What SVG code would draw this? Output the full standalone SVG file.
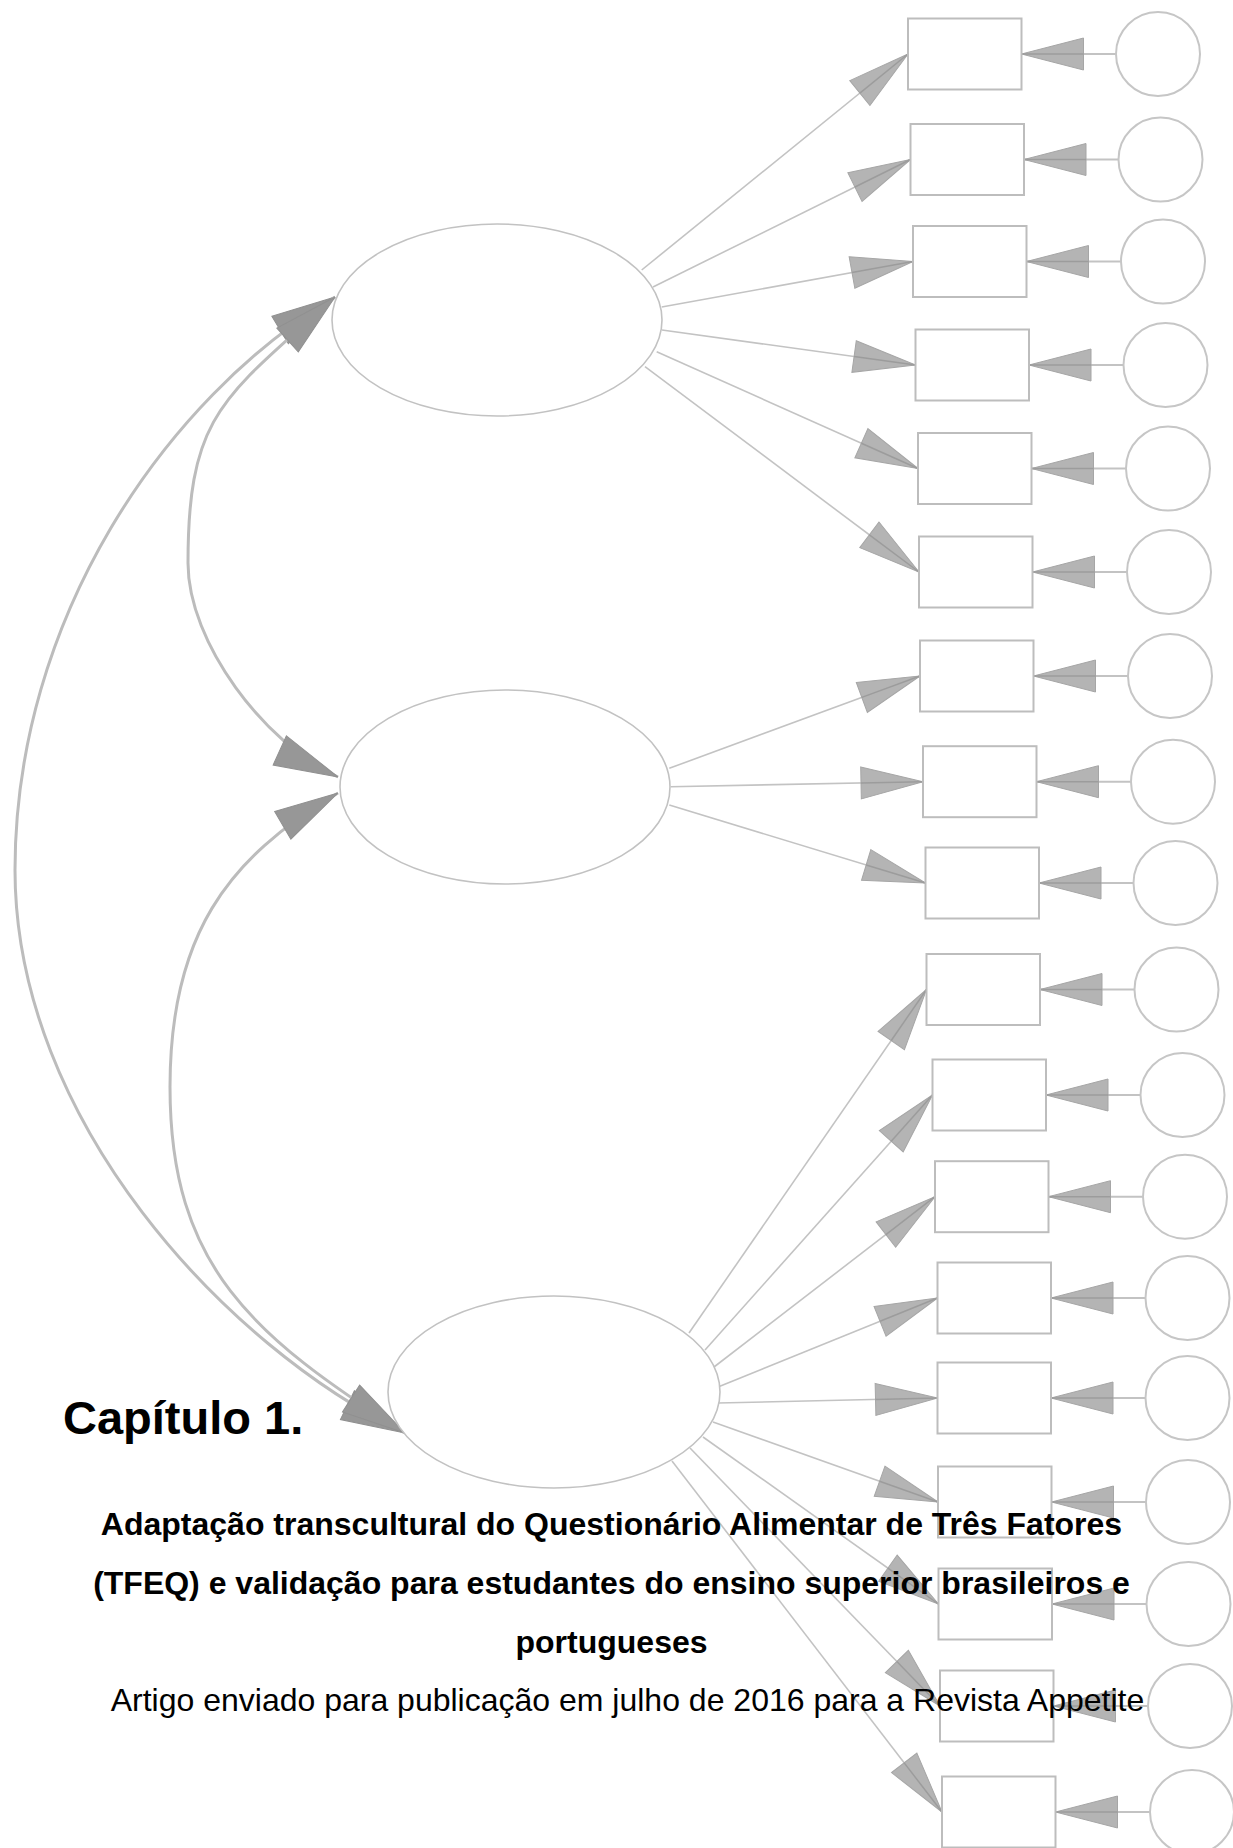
<svg xmlns="http://www.w3.org/2000/svg" width="1233" height="1848" viewBox="0 0 1233 1848">
  <style>
    .lat { fill: #ffffff; stroke: #c2c2c2; stroke-width: 1.6; }
    .obs { fill: #ffffff; stroke: #bdbdbd; stroke-width: 2; }
    .err { fill: #ffffff; stroke: #c6c6c6; stroke-width: 2; }
    .ld  { fill: none; stroke: #c3c3c3; stroke-width: 1.6; marker-end: url(#ah); }
    .ep  { fill: none; stroke: #c3c3c3; stroke-width: 2; marker-end: url(#ah); }
    .cov { fill: none; stroke: #bcbcbc; stroke-width: 3; marker-start: url(#ch); marker-end: url(#ch); }
    .hd  { font-family: "Liberation Sans", Arial, sans-serif; font-weight: bold; fill: #000000; }
    .tx  { font-family: "Liberation Sans", Arial, sans-serif; fill: #000000; }
  </style>
  <defs>
    <!-- single-headed path arrow (loadings and error terms) -->
    <marker id="ah" viewBox="0 0 62 32" refX="62" refY="16" markerWidth="62" markerHeight="32" markerUnits="userSpaceOnUse" orient="auto" overflow="visible">
      <path d="M0,0 L62,16 L0,32 Z" fill="#b4b4b4" stroke="#a6a6a6" stroke-width="1"/>
      <path d="M0,16 H62" stroke="#9c9c9c" stroke-width="1.5"/>
    </marker>
    <!-- covariance arrowheads, drawn at both ends of each curve -->
    <marker id="ch" viewBox="0 0 64 32" refX="64" refY="16" markerWidth="64" markerHeight="32" markerUnits="userSpaceOnUse" orient="auto-start-reverse" overflow="visible">
      <path d="M0,0 L64,16 L0,32 Z" fill="#979797" stroke="#909090" stroke-width="1"/>
    </marker>
  </defs>

  <!-- connectors -->
  <g id="connectors">
    <!-- covariances between the latent factors -->
    <path class="cov" d="M335,297 C163.6,399.8 15,620 15,870 C15,1120 225,1346 405,1433"/>
    <path class="cov" d="M335,297 C224,397.5 188,413 188,563 C188,643 265.2,743.8 338,777"/>
    <path class="cov" d="M338,793 C225.8,858.7 170,937 170,1087 C170,1267 253.3,1336.2 405,1433"/>

    <!-- factor loadings -->
    <line class="ld" x1="641.7" y1="270" x2="908" y2="54"/>
    <line class="ld" x1="653" y1="287" x2="910.5" y2="159.5"/>
    <line class="ld" x1="661.7" y1="307" x2="913" y2="261.5"/>
    <line class="ld" x1="662" y1="330" x2="915.5" y2="365"/>
    <line class="ld" x1="656.7" y1="351.7" x2="918" y2="468.5"/>
    <line class="ld" x1="645" y1="366.7" x2="919" y2="572"/>

    <line class="ld" x1="669.3" y1="768.3" x2="920" y2="676"/>
    <line class="ld" x1="670.7" y1="786.7" x2="923" y2="781.7"/>
    <line class="ld" x1="669.3" y1="805" x2="925.5" y2="883"/>

    <line class="ld" x1="689" y1="1333" x2="926.5" y2="989.5"/>
    <line class="ld" x1="705" y1="1350" x2="932.5" y2="1095"/>
    <line class="ld" x1="714" y1="1367" x2="935" y2="1196.7"/>
    <line class="ld" x1="718" y1="1387" x2="937.5" y2="1298"/>
    <line class="ld" x1="718" y1="1403" x2="937.5" y2="1398"/>
    <line class="ld" x1="713" y1="1422" x2="938" y2="1502"/>
    <line class="ld" x1="703" y1="1437" x2="938.5" y2="1604"/>
    <line class="ld" x1="690" y1="1448" x2="940" y2="1706"/>
    <line class="ld" x1="672" y1="1461" x2="942" y2="1812"/>

    <!-- error terms -->
    <line class="ep" x1="1116" y1="54" x2="1021.5" y2="54"/>
    <line class="ep" x1="1118.5" y1="159.5" x2="1024" y2="159.5"/>
    <line class="ep" x1="1121" y1="261.5" x2="1026.5" y2="261.5"/>
    <line class="ep" x1="1123.5" y1="365" x2="1029" y2="365"/>
    <line class="ep" x1="1126" y1="468.5" x2="1031.5" y2="468.5"/>
    <line class="ep" x1="1127" y1="572" x2="1032.5" y2="572"/>
    <line class="ep" x1="1128" y1="676" x2="1033.5" y2="676"/>
    <line class="ep" x1="1131" y1="781.7" x2="1036.5" y2="781.7"/>
    <line class="ep" x1="1133.5" y1="883" x2="1039" y2="883"/>
    <line class="ep" x1="1134.5" y1="989.5" x2="1040" y2="989.5"/>
    <line class="ep" x1="1140.5" y1="1095" x2="1046" y2="1095"/>
    <line class="ep" x1="1143" y1="1196.7" x2="1048.5" y2="1196.7"/>
    <line class="ep" x1="1145.5" y1="1298" x2="1051" y2="1298"/>
    <line class="ep" x1="1145.5" y1="1398" x2="1051" y2="1398"/>
    <line class="ep" x1="1146" y1="1502" x2="1051.5" y2="1502"/>
    <line class="ep" x1="1146.5" y1="1604" x2="1052" y2="1604"/>
    <line class="ep" x1="1148" y1="1706" x2="1053.5" y2="1706"/>
    <line class="ep" x1="1150" y1="1812" x2="1055.5" y2="1812"/>
  </g>

  <!-- latent factors -->
  <g id="f1"><ellipse class="lat" cx="497" cy="320" rx="165" ry="96"/></g>
  <g id="f2"><ellipse class="lat" cx="505" cy="787" rx="165" ry="97"/></g>
  <g id="f3"><ellipse class="lat" cx="554" cy="1392" rx="166" ry="96"/></g>

  <!-- observed items -->
  <g id="x1"><rect class="obs" x="908" y="18.5" width="113.5" height="71"/></g>
  <g id="x2"><rect class="obs" x="910.5" y="124" width="113.5" height="71"/></g>
  <g id="x3"><rect class="obs" x="913" y="226" width="113.5" height="71"/></g>
  <g id="x4"><rect class="obs" x="915.5" y="329.5" width="113.5" height="71"/></g>
  <g id="x5"><rect class="obs" x="918" y="433" width="113.5" height="71"/></g>
  <g id="x6"><rect class="obs" x="919" y="536.5" width="113.5" height="71"/></g>
  <g id="x7"><rect class="obs" x="920" y="640.5" width="113.5" height="71"/></g>
  <g id="x8"><rect class="obs" x="923" y="746.2" width="113.5" height="71"/></g>
  <g id="x9"><rect class="obs" x="925.5" y="847.5" width="113.5" height="71"/></g>
  <g id="x10"><rect class="obs" x="926.5" y="954" width="113.5" height="71"/></g>
  <g id="x11"><rect class="obs" x="932.5" y="1059.5" width="113.5" height="71"/></g>
  <g id="x12"><rect class="obs" x="935" y="1161.2" width="113.5" height="71"/></g>
  <g id="x13"><rect class="obs" x="937.5" y="1262.5" width="113.5" height="71"/></g>
  <g id="x14"><rect class="obs" x="937.5" y="1362.5" width="113.5" height="71"/></g>
  <g id="x15"><rect class="obs" x="938" y="1466.5" width="113.5" height="71"/></g>
  <g id="x16"><rect class="obs" x="938.5" y="1568.5" width="113.5" height="71"/></g>
  <g id="x17"><rect class="obs" x="940" y="1670.5" width="113.5" height="71"/></g>
  <g id="x18"><rect class="obs" x="942" y="1776.5" width="113.5" height="71"/></g>

  <!-- error terms -->
  <g id="e1"><circle class="err" cx="1158" cy="54" r="42"/></g>
  <g id="e2"><circle class="err" cx="1160.5" cy="159.5" r="42"/></g>
  <g id="e3"><circle class="err" cx="1163" cy="261.5" r="42"/></g>
  <g id="e4"><circle class="err" cx="1165.5" cy="365" r="42"/></g>
  <g id="e5"><circle class="err" cx="1168" cy="468.5" r="42"/></g>
  <g id="e6"><circle class="err" cx="1169" cy="572" r="42"/></g>
  <g id="e7"><circle class="err" cx="1170" cy="676" r="42"/></g>
  <g id="e8"><circle class="err" cx="1173" cy="781.7" r="42"/></g>
  <g id="e9"><circle class="err" cx="1175.5" cy="883" r="42"/></g>
  <g id="e10"><circle class="err" cx="1176.5" cy="989.5" r="42"/></g>
  <g id="e11"><circle class="err" cx="1182.5" cy="1095" r="42"/></g>
  <g id="e12"><circle class="err" cx="1185" cy="1196.7" r="42"/></g>
  <g id="e13"><circle class="err" cx="1187.5" cy="1298" r="42"/></g>
  <g id="e14"><circle class="err" cx="1187.5" cy="1398" r="42"/></g>
  <g id="e15"><circle class="err" cx="1188" cy="1502" r="42"/></g>
  <g id="e16"><circle class="err" cx="1188.5" cy="1604" r="42"/></g>
  <g id="e17"><circle class="err" cx="1190" cy="1706" r="42"/></g>
  <g id="e18"><circle class="err" cx="1192" cy="1812" r="42"/></g>

  <!-- chapter heading -->
  <g id="heading">
    <text class="hd" x="63" y="1434" font-size="47">Capítulo 1.</text>
    <text class="hd" x="611.5" y="1535" font-size="32" text-anchor="middle">Adaptação transcultural do Questionário Alimentar de Três Fatores</text>
    <text class="hd" x="611.5" y="1594" font-size="32" text-anchor="middle">(TFEQ) e validação para estudantes do ensino superior brasileiros e</text>
    <text class="hd" x="611.5" y="1653" font-size="32" text-anchor="middle">portugueses</text>
    <text class="tx" x="627.5" y="1711" font-size="32" text-anchor="middle">Artigo enviado para publicação em julho de 2016 para a Revista Appetite</text>
  </g>
</svg>
